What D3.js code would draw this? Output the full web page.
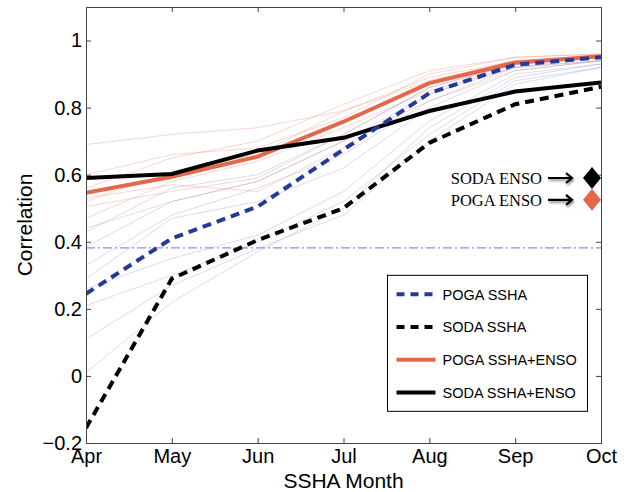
<!DOCTYPE html>
<html>
<head>
<meta charset="utf-8">
<script src="https://cdn.jsdelivr.net/npm/d3@7"></script>
<style>
  body { margin: 0; background: #fff; }
  svg { display: block; font-family: "Liberation Sans", Arial, sans-serif; }
</style>
</head>
<body>
<svg id="chart" width="628" height="492"></svg>
<script>
// months on the x axis
const months = ['Apr', 'May', 'Jun', 'Jul', 'Aug', 'Sep', 'Oct']
const yTicks = [-0.2, 0, 0.2, 0.4, 0.6, 0.8, 1]

// main series
const pogaSSHA = [0.245, 0.41, 0.505, 0.675, 0.843, 0.928, 0.95]
const sodaSSHA = [-0.155, 0.29, 0.405, 0.50, 0.695, 0.81, 0.862]
const pogaSSHAEnso = [0.546, 0.594, 0.654, 0.758, 0.873, 0.934, 0.953]
const sodaSSHAEnso = [0.59, 0.602, 0.672, 0.71, 0.79, 0.848, 0.875]

// faint ensemble members
const redMembers = [
  [0.69, 0.72, 0.74, 0.79, 0.88, 0.94, 0.955],
  [0.60, 0.66, 0.68, 0.77, 0.90, 0.95, 0.96],
  [0.52, 0.61, 0.66, 0.79, 0.89, 0.94, 0.95],
  [0.505, 0.55, 0.59, 0.72, 0.86, 0.93, 0.95],
  [0.47, 0.58, 0.64, 0.74, 0.85, 0.92, 0.94],
  [0.44, 0.52, 0.58, 0.70, 0.82, 0.91, 0.94],
  [0.56, 0.65, 0.70, 0.81, 0.91, 0.95, 0.96],
  [0.53, 0.57, 0.55, 0.68, 0.84, 0.93, 0.95]
]
const blueMembers = [
  [0.43, 0.56, 0.60, 0.72, 0.86, 0.93, 0.95],
  [0.385, 0.52, 0.58, 0.70, 0.84, 0.92, 0.95],
  [0.33, 0.48, 0.56, 0.66, 0.82, 0.92, 0.94],
  [0.29, 0.47, 0.52, 0.62, 0.80, 0.91, 0.94],
  [0.26, 0.35, 0.42, 0.55, 0.76, 0.90, 0.93],
  [0.21, 0.30, 0.40, 0.52, 0.72, 0.88, 0.92],
  [0.11, 0.27, 0.38, 0.48, 0.70, 0.87, 0.92],
  [0.01, 0.22, 0.37, 0.50, 0.74, 0.89, 0.93]
]

const threshold = 0.382
const sodaEnso = 0.59
const pogaEnso = 0.525

const legendItems = [
  { label: 'POGA SSHA', color: '#25399a', dash: '8,6' },
  { label: 'SODA SSHA', color: '#000', dash: '8,6' },
  { label: 'POGA SSHA+ENSO', color: '#e4674a', dash: null },
  { label: 'SODA SSHA+ENSO', color: '#000', dash: null }
]

const svg = d3.select('#chart')
const margin = { left: 86, right: 27, top: 7, bottom: 49 }
const width = 628 - margin.left - margin.right
const height = 492 - margin.top - margin.bottom

const x = d3.scalePoint().domain(months).range([0, width])
const y = d3.scaleLinear().domain([-0.2, 1.1]).range([height, 0])

const g = svg.append('g').attr('transform', `translate(${margin.left},${margin.top})`)

const defs = svg.append('defs')
defs.append('clipPath').attr('id', 'plot-clip')
  .append('rect').attr('width', width).attr('height', height)

const line = d3.line().x((d, i) => x(months[i])).y(d => y(d))

const plot = g.append('g').attr('clip-path', 'url(#plot-clip)')

// faint members
plot.selectAll('.red-member').data(redMembers).enter().append('path')
  .attr('d', line).attr('fill', 'none')
  .attr('stroke', '#f08a78').attr('stroke-opacity', 0.35).attr('stroke-width', 1)
plot.selectAll('.blue-member').data(blueMembers).enter().append('path')
  .attr('d', line).attr('fill', 'none')
  .attr('stroke', '#7f8fd0').attr('stroke-opacity', 0.3).attr('stroke-width', 1)

// reference dash-dot line
plot.append('line')
  .attr('x1', 0).attr('x2', width)
  .attr('y1', y(threshold)).attr('y2', y(threshold))
  .attr('stroke', '#8c8cf5').attr('stroke-width', 1.2)
  .attr('stroke-dasharray', '9,3,2,3')

// main lines
const mainSeries = [
  { values: pogaSSHAEnso, color: '#e4674a', dash: null },
  { values: sodaSSHAEnso, color: '#000', dash: null },
  { values: pogaSSHA, color: '#25399a', dash: '9,6' },
  { values: sodaSSHA, color: '#000', dash: '9,6' }
]
mainSeries.forEach(s => {
  plot.append('path')
    .attr('d', line(s.values)).attr('fill', 'none')
    .attr('stroke', s.color).attr('stroke-width', 4)
    .attr('stroke-dasharray', s.dash)
})

// axes with inward ticks on all four sides
const fmt = d => d < 0 ? '\u2212' + Math.abs(d) : String(d)
const frameColor = '#444'

const yLeft = g.append('g').call(d3.axisLeft(y).tickValues(yTicks).tickSize(-5).tickPadding(4).tickFormat(fmt))
const yRight = g.append('g').attr('transform', `translate(${width},0)`)
  .call(d3.axisRight(y).tickValues(yTicks).tickSize(-5).tickFormat(''))
const xBottom = g.append('g').attr('transform', `translate(0,${height})`)
  .call(d3.axisBottom(x).tickSize(-5).tickPadding(8))
const xTop = g.append('g').call(d3.axisTop(x).tickSize(-5).tickFormat(''))

;[yLeft, yRight, xBottom, xTop].forEach(a => {
  a.select('.domain').attr('stroke', frameColor)
  a.selectAll('.tick line').attr('stroke', frameColor)
  a.selectAll('text').attr('font-size', 20).attr('fill', '#000')
    .attr('font-family', '"Liberation Sans", Arial, sans-serif')
})
xBottom.selectAll('.tick text').attr('dy', '0.62em')

// axis titles
svg.append('text')
  .attr('x', margin.left + width / 2).attr('y', 488)
  .attr('text-anchor', 'middle').attr('font-size', 21)
  .text('SSHA Month')
svg.append('text')
  .attr('transform', `translate(32,${margin.top + height / 2}) rotate(-90)`)
  .attr('text-anchor', 'middle').attr('font-size', 21)
  .text('Correlation')

// ENSO markers with annotations
const enso = [
  { label: 'SODA ENSO', value: sodaEnso, color: '#000' },
  { label: 'POGA ENSO', value: pogaEnso, color: '#e4674a' }
]
defs.append('filter').attr('id', 'shadow')
  .attr('filterUnits', 'userSpaceOnUse')
  .attr('x', 0).attr('y', 0).attr('width', 628).attr('height', 492)
  .append('feDropShadow').attr('dx', 1).attr('dy', 2).attr('stdDeviation', 1.2)
  .attr('flood-color', '#000').attr('flood-opacity', 0.45)

const xOct = x('Oct')
enso.forEach(e => {
  const cy = y(e.value)
  g.append('path')
    .attr('transform', `translate(${xOct - 9},${cy})`)
    .attr('d', 'M0,-11 L9,0 L0,11 L-9,0 Z')
    .attr('fill', e.color)
  // arrow: shaft plus open head
  const x0 = xOct - 53
  const x1 = xOct - 29
  g.append('path')
    .attr('d', `M${x0},${cy} L${x1},${cy} M${x1 - 6},${cy - 5} L${x1},${cy} L${x1 - 6},${cy + 5}`)
    .attr('fill', 'none')
    .attr('stroke', '#000').attr('stroke-width', 2.1)
    .attr('filter', 'url(#shadow)')
  g.append('text')
    .attr('x', xOct - 59).attr('y', cy).attr('dy', '0.35em')
    .attr('text-anchor', 'end')
    .attr('font-family', '"Liberation Serif", "DejaVu Serif", serif')
    .attr('font-size', 16.5)
    .text(e.label)
})

// legend
const legend = g.append('g').attr('transform', `translate(${x('Jul') + 44},${y(0.3)})`)
legend.append('rect')
  .attr('width', 200).attr('height', 136)
  .attr('fill', '#fff').attr('stroke', '#000').attr('stroke-width', 1)
legendItems.forEach((d, i) => {
  const ly = 19 + i * 32.7
  legend.append('line')
    .attr('x1', 9).attr('x2', 48).attr('y1', ly).attr('y2', ly)
    .attr('stroke', d.color).attr('stroke-width', 4)
    .attr('stroke-dasharray', d.dash ? '8,6' : null)
  legend.append('text')
    .attr('x', 55).attr('y', ly).attr('dy', '0.36em')
    .attr('font-size', 14.5)
    .text(d.label)
})
</script>
</body>
</html>
